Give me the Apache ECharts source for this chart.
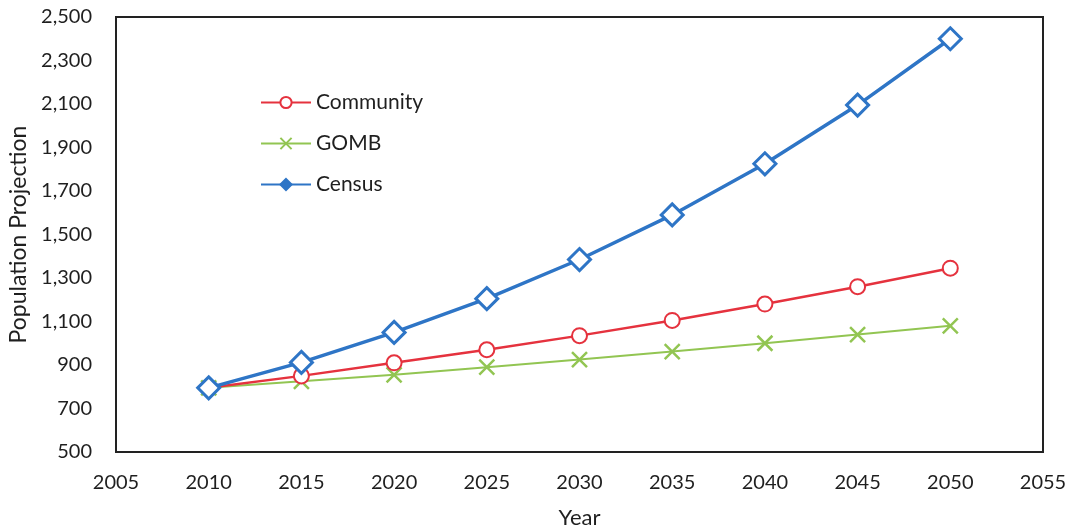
<!DOCTYPE html>
<html>
<head>
<meta charset="utf-8">
<script src="https://cdn.jsdelivr.net/npm/echarts@6/dist/echarts.min.js"></script>
<style>
html,body{margin:0;padding:0;background:#fff;}
#chart{width:1073px;height:531px;}
</style>
</head>
<body>
<div id="chart"></div>
<script>
const years = [2010, 2015, 2020, 2025, 2030, 2035, 2040, 2045, 2050];
const community = [795, 850, 910, 970, 1035, 1105, 1180, 1260, 1345];
const gomb = [795, 825, 855, 890, 925, 962, 1000, 1040, 1080];
const census = [795, 912, 1050, 1205, 1385, 1590, 1825, 2095, 2400];
const seriesNames = ['Community', 'GOMB', 'Census'];

const pair = (vals) => years.map((y, i) => [y, vals[i]]);
const font = 'Lato, "Open Sans", sans-serif';
const txt = '#1f1f1f';
const xPath = 'path://M0,0L10,10M10,0L0,10';

const chart = echarts.init(document.getElementById('chart'));
chart.setOption({
  animation: false,
  backgroundColor: '#fff',
  grid: {left: 116, right: 30, top: 17, bottom: 79, containLabel: false, outerBoundsMode: 'none',
    show: true, borderColor: '#222', borderWidth: 2, backgroundColor: 'transparent'},
  legend: {
    orient: 'vertical', left: 255, top: 87, itemGap: 20, itemWidth: 50, itemHeight: 14,
    textStyle: {fontFamily: font, fontSize: 21, color: txt},
    data: [
      {name: seriesNames[0]},
      {name: seriesNames[1]},
      {name: seriesNames[2], itemStyle: {color: '#2E75C6', borderColor: '#2E75C6'}}
    ]
  },
  xAxis: {
    type: 'value', min: 2005, max: 2055, interval: 5,
    name: 'Year', nameLocation: 'middle', nameGap: 55, nameMoveOverlap: false,
    nameTextStyle: {fontFamily: font, fontSize: 22, color: txt},
    axisLine: {show: false}, axisTick: {show: false}, splitLine: {show: false},
    axisLabel: {fontFamily: font, fontSize: 20, color: txt, margin: 21,
      formatter: v => String(v)}
  },
  yAxis: {
    type: 'value', min: 500, max: 2500, interval: 200,
    name: 'Population Projection', nameLocation: 'middle', nameGap: 86, nameRotate: 90,
    nameMoveOverlap: false,
    nameTextStyle: {fontFamily: font, fontSize: 23, color: txt},
    axisLine: {show: false}, axisTick: {show: false}, splitLine: {show: false},
    axisLabel: {fontFamily: font, fontSize: 20, color: txt, margin: 24,
      formatter: v => v.toLocaleString('en-US')}
  },
  series: [
    {
      name: seriesNames[0], type: 'line', data: pair(community), z: 3,
      symbol: 'emptyCircle', symbolSize: 15,
      lineStyle: {color: '#E5323E', width: 2.5},
      itemStyle: {color: '#E5323E', borderColor: '#E5323E', borderWidth: 2.5}
    },
    {
      name: seriesNames[1], type: 'line', data: pair(gomb), z: 2,
      symbol: xPath, symbolSize: 15,
      lineStyle: {color: '#92C552', width: 2},
      itemStyle: {color: '#92C552', borderColor: '#92C552', borderWidth: 2.5}
    },
    {
      name: seriesNames[2], type: 'line', data: pair(census), z: 4,
      symbol: 'diamond', symbolSize: 22,
      lineStyle: {color: '#2E75C6', width: 3.5},
      itemStyle: {color: '#ffffff', borderColor: '#2E75C6', borderWidth: 3}
    }
  ]
});
</script>
</body>
</html>
